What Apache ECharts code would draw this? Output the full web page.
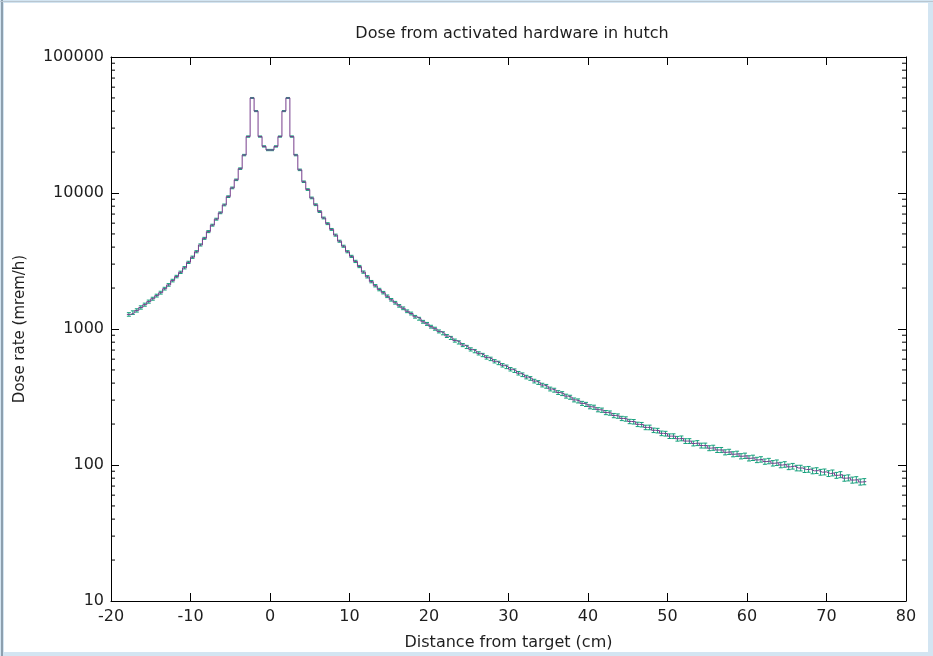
<!DOCTYPE html>
<html><head><meta charset="utf-8">
<script src="https://cdn.jsdelivr.net/npm/echarts@6/dist/echarts.min.js"></script>
<style>
html,body{margin:0;padding:0;background:#fff;}
#c{position:absolute;left:0;top:0;width:933px;height:656px;}
#frame{position:absolute;left:0;top:0;width:933px;height:656px;box-sizing:border-box;border-style:solid;border-color:#d3e5f2;border-width:3px 5px 4px 4px;pointer-events:none;}
#edgeL{position:absolute;left:1px;top:0;width:2px;height:656px;background:#8d9fae;pointer-events:none;}
#edgeT{position:absolute;left:0;top:1px;width:933px;height:1px;background:#b9c6d0;pointer-events:none;}
</style></head><body>
<div id="c"></div><div id="frame"></div><div id="edgeL"></div><div id="edgeT"></div>
<script>
// ---- data (dose rate per 0.5 cm bin, mrem/h) ----
const BIN_START = -18, BIN_WIDTH = 0.5;
const X_MIN = -20, X_MAX = 80, X_STEP = 10;
const Y_MIN = 10, Y_MAX = 100000;
const yTickLabels = ['10', '100', '1000', '10000', '100000'];

// bins -18.0 ... -3.0 (start)
const doseLeft = [1280,1320,1370,1440,1510,1590,1670,1760,1850,1980,2110,2270,2430,2610,2820,3090,3370,3700,4150,4640,5200,5800,6420,7150,8170,9400,10900,12500,15100,19000,26000];
// bins -2.5 ... 2.0 (start)
const dosePeak = [50000,40000,26000,22000,20700,20700,22000,26000,40000,50000];
// bins 2.5 ... 14.5 (start)
const doseRight = [26000,19000,14800,12100,10600,9200,8200,7300,6550,5950,5400,4900,4420,4060,3700,3420,3140,2880,2620,2420,2230,2080,1950,1850,1740];
// bins 15.0 ... 74.5 (start)
const doseTail = [
 1640,1560,1480,1420,1350,1300,1230,1190,1130,1090,
 1040,1005,960,930,888,860,822,797,762,738,
 708,688,662,644,618,603,579,563,541,527,
 506,494,473,461,443,433,414,404,387,379,
 362,355,341,335,321,315,301,296,284,279,
 268,266,255,253,243,241,231,229,220,218,
 209,208,199,198,189,189,180,179,171,170,
 163,163,156,157,150,150,144,145,139,139,
 133,134,129,129,124,125,120,121,116,117,
 112,113,109,110,106,107,103,104,100,101,
 97,98,95,95,92.5,93,90.5,91,88.5,89,
 86.5,87.5,84,85,80,80.5,77.5,78,75,75.5];

// relative statistical error per bin, percent
const errLeft = [3,3,2.8,2.8,2.6,2.6,2.5,2.4,2.4,2.3,2.2,2.2,2.1,2,2,1.9,1.9,1.8,1.8,1.7,1.7,1.6,1.6,1.5,1.5,1.4,1.4,1.3,1.3,1.2,1.1];
const errPeak = [0.8,0.9,1,1.1,1.1,1.1,1.1,1,0.9,0.8];
const errRight = [1.1,1.2,1.3,1.3,1.4,1.4,1.5,1.5,1.5,1.6,1.6,1.7,1.7,1.7,1.8,1.8,1.9,1.9,1.9,2,2,2,2.1,2.1,2.2];
const errTail = [
 2.2,2.3,2.2,2.3,2.3,2.4,2.3,2.4,2.4,2.5,
 2.4,2.5,2.5,2.6,2.5,2.6,2.6,2.7,2.6,2.7,
 2.7,2.8,2.7,2.8,2.8,2.9,2.8,2.9,2.9,3.0,
 2.9,3.0,3.0,3.1,3.0,3.1,3.1,3.2,3.1,3.2,
 3.2,3.3,3.2,3.3,3.3,3.4,3.3,3.4,3.4,3.5,
 3.4,3.5,3.5,3.6,3.5,3.6,3.6,3.7,3.6,3.7,
 3.7,3.8,3.7,3.8,3.8,3.9,3.8,3.9,3.9,4.0,
 3.9,4.0,4.0,4.1,4.0,4.1,4.1,4.2,4.1,4.2,
 4.2,4.3,4.2,4.3,4.3,4.4,4.3,4.4,4.4,4.5,
 4.4,4.5,4.5,4.6,4.5,4.6,4.6,4.7,4.6,4.7,
 4.7,4.8,4.7,4.8,4.8,4.9,4.8,4.9,4.9,5.0,
 4.9,5.0,5.0,5.1,5.0,5.1,5.1,5.2,5.1,5.2];

const dose = doseLeft.concat(dosePeak, doseRight, doseTail);
const errPct = errLeft.concat(errPeak, errRight, errTail);

const stepData = dose.map((v, i) => [BIN_START + i * BIN_WIDTH, v]);
stepData.push([BIN_START + dose.length * BIN_WIDTH, dose[dose.length - 1]]);
const errData = dose.map((v, i) => {
  const c = BIN_START + (i + 0.5) * BIN_WIDTH;
  const e = v * errPct[i] / 100;
  return [c, v, v - e, v + e];
});
const minorVals = [];
for (let d = Y_MIN; d < Y_MAX; d *= 10) for (let k = 2; k <= 9; k++) minorVals.push([X_MIN, k * d]);

const FONT = 'DejaVu Sans';
const LINE_COLOR = '#763d8c';
const ERR_COLOR = '#16a07c';
const TXT = '#1e1e1e';

const chart = echarts.init(document.getElementById('c'), null, {renderer: 'canvas'});
const yLabelFmt = v => { const s = String(Math.round(v)); return yTickLabels.indexOf(s) >= 0 ? s : ''; };
const baseX = {type: 'value', min: X_MIN, max: X_MAX, interval: X_STEP, splitLine: {show: false},
  axisLine: {show: true, onZero: false, lineStyle: {color: '#000', width: 1}},
  axisTick: {show: true, inside: true, length: 8, lineStyle: {color: '#000'}}};
const baseY = {type: 'log', logBase: 10, min: Y_MIN, max: Y_MAX, splitLine: {show: false},
  axisLine: {show: true, onZero: false, lineStyle: {color: '#000', width: 1}},
  axisTick: {show: true, inside: true, length: 8, lineStyle: {color: '#000'}}};

chart.setOption({
  animation: false,
  backgroundColor: '#fff',
  title: {text: 'Dose from activated hardware in hutch', left: 507, top: 21, textAlign: 'center',
    textStyle: {fontFamily: FONT, fontSize: 16, fontWeight: 'normal', color: TXT}},
  grid: {left: 111, right: 27, top: 57, bottom: 55},
  xAxis: [
    Object.assign({}, baseX, {position: 'bottom', name: 'Distance from target (cm)', nameLocation: 'middle', nameGap: 34,
      nameTextStyle: {fontFamily: FONT, fontSize: 16, color: TXT},
      axisLabel: {fontFamily: FONT, fontSize: 16, color: TXT, margin: 8}}),
    Object.assign({}, baseX, {position: 'top', axisLabel: {show: false}})
  ],
  yAxis: [
    Object.assign({}, baseY, {position: 'left', name: 'Dose rate (mrem/h)', nameLocation: 'middle', nameGap: 83,
      nameTextStyle: {fontFamily: FONT, fontSize: 15, color: TXT},
      axisLabel: {fontFamily: FONT, fontSize: 16, color: TXT, margin: 7, formatter: yLabelFmt}}),
    Object.assign({}, baseY, {position: 'right', axisLabel: {show: false}})
  ],
  series: [
    {type: 'line', step: 'end', data: stepData, showSymbol: false, symbol: 'none',
      lineStyle: {color: LINE_COLOR, width: 1}, xAxisIndex: 0, yAxisIndex: 0, silent: true},
    {type: 'custom', data: errData, xAxisIndex: 0, yAxisIndex: 0, silent: true,
      encode: {x: 0, y: 1},
      renderItem: (params, api) => {
        const c = api.value(0);
        const lo = api.coord([c, api.value(2)]);
        const hi = api.coord([c, api.value(3)]);
        const w = 2;
        const st = {stroke: ERR_COLOR, lineWidth: 1};
        return {type: 'group', children: [
          {type: 'line', shape: {x1: lo[0], y1: lo[1], x2: hi[0], y2: hi[1]}, style: st},
          {type: 'line', shape: {x1: lo[0] - w, y1: lo[1], x2: lo[0] + w, y2: lo[1]}, style: st},
          {type: 'line', shape: {x1: hi[0] - w, y1: hi[1], x2: hi[0] + w, y2: hi[1]}, style: st}
        ]};
      }},
    {type: 'custom', data: minorVals, xAxisIndex: 0, yAxisIndex: 0, silent: true,
      encode: {x: 0, y: 1},
      renderItem: (params, api) => {
        const v = api.value(1);
        const pl = api.coord([X_MIN, v]);
        const pr = api.coord([X_MAX, v]);
        const st = {stroke: '#000', lineWidth: 1};
        return {type: 'group', children: [
          {type: 'line', shape: {x1: pl[0], y1: pl[1], x2: pl[0] + 4, y2: pl[1]}, style: st},
          {type: 'line', shape: {x1: pr[0], y1: pr[1], x2: pr[0] - 4, y2: pr[1]}, style: st}
        ]};
      }}
  ]
});
</script>
</body></html>
